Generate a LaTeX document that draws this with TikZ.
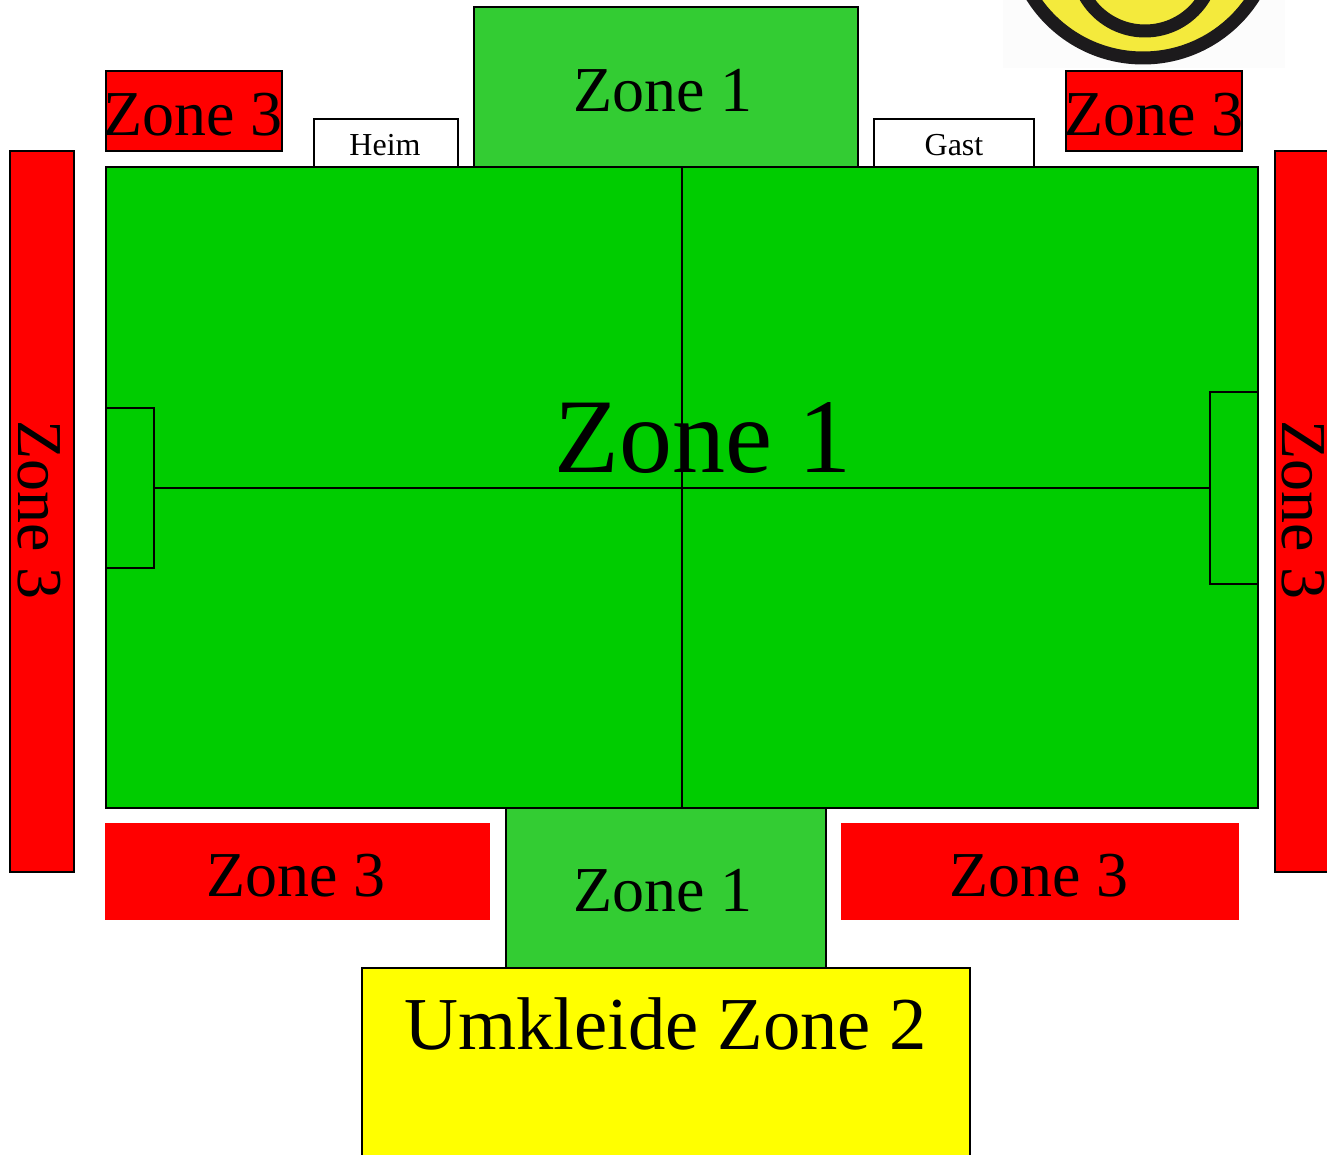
\documentclass[tikz,border=0pt]{standalone}
\usepackage{fontspec}
\setmainfont{Liberation Serif}
\definecolor{pitchgreen}{RGB}{0,204,0}
\definecolor{limegreen}{RGB}{51,204,51}
\definecolor{zonered}{RGB}{255,0,0}
\definecolor{zoneyellow}{RGB}{255,255,0}
\definecolor{logoyellow}{RGB}{244,234,60}
\definecolor{logoblack}{RGB}{28,26,28}
\tikzset{
  area/.style={draw=black, line width=2pt},
  hugetext/.style={anchor=base, font=\fontsize{106}{106}\selectfont},
  zonetext/.style={anchor=base, font=\fontsize{64}{64}\selectfont},
  bigtext/.style={anchor=base, font=\fontsize{74.7}{74.7}\selectfont},
  benchtext/.style={anchor=base, font=\fontsize{32}{32}\selectfont},
}
\begin{document}
\begin{tikzpicture}[x=1pt, y=-1pt]
\useasboundingbox (0,0) rectangle (1327,1155);
\clip (0,0) rectangle (1327,1155);
% ---- logo, cut off at the top ----
\fill[black!1] (1003,0) rectangle (1285,68);
\fill[logoyellow] (1143,-73) circle (131);
\draw[logoblack, line width=13pt] (1143,-73) circle (131);
\draw[logoblack, line width=13pt] (1145,-38) circle (69);
% ---- stands and benches ----
\filldraw[area, fill=limegreen] (473.5,7.5) rectangle (857.5,167.5);
\filldraw[area, fill=white] (313.5,119.5) rectangle (457.5,167.5);
\filldraw[area, fill=white] (873.5,119.5) rectangle (1033.5,167.5);
\filldraw[area, fill=zonered] (105.5,71.5) rectangle (281.5,151.5);
\filldraw[area, fill=zonered] (1065.5,71.5) rectangle (1241.5,151.5);
\filldraw[area, fill=zonered] (9.5,151.5) rectangle (73.5,871.5);
\filldraw[area, fill=zonered] (1274.5,151.5) rectangle (1340,871.5);
% ---- pitch ----
\filldraw[area, fill=pitchgreen] (105.5,167.5) rectangle (1257.5,807.5);
\draw[area] (681.5,167.5) -- (681.5,807.5);
\draw[area] (153.5,487.5) -- (1209.5,487.5);
\draw[area] (105.5,407.5) rectangle (153.5,567.5);
\draw[area] (1209.5,391.5) rectangle (1257.5,583.5);
% ---- below the pitch ----
\fill[zonered] (105,823) rectangle (490,920);
\fill[zonered] (841,823) rectangle (1239,920);
\filldraw[area, fill=limegreen] (505.5,807.5) rectangle (825.5,967.5);
\filldraw[area, fill=zoneyellow] (361.5,967.5) rectangle (969.5,1170);
% ---- labels ----
\node[hugetext] (pitchlabel) at (703,472) {Zone 1};
\node[zonetext] (northlabel) at (663,112) {Zone 1};
\node[zonetext] (southlabel) at (663,911) {Zone 1};
\node[zonetext] (cornerleft) at (193,136) {Zone 3};
\node[zonetext] (cornerright) at (1154,136) {Zone 3};
\node[zonetext] (lowerleft) at (296,896) {Zone 3};
\node[zonetext] (lowerright) at (1039,896) {Zone 3};
\node[zonetext, rotate=-90] (sideleft) at (18.5,510) {Zone 3};
\node[zonetext, rotate=-90] (sideright) at (1282.5,510) {Zone 3};
\node[bigtext] (changing) at (665.5,1049) {Umkleide Zone 2};
\node[benchtext] (heim) at (385,156) {Heim};
\node[benchtext] (gast) at (954,156) {Gast};
\end{tikzpicture}
\end{document}
